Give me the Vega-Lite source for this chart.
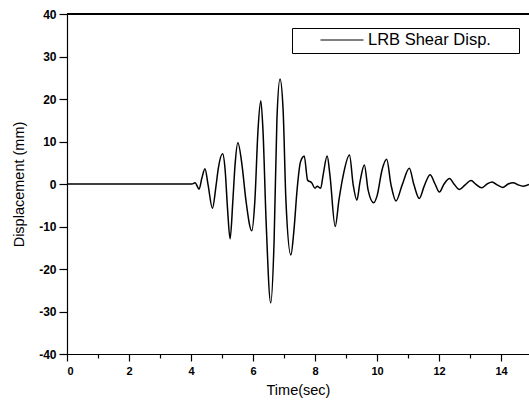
{
  "$schema": "https://vega.github.io/schema/vega-lite/v6.json",
  "autosize": "none",
  "width": 462,
  "height": 340,
  "padding": {"left": 67, "top": 14, "right": 0, "bottom": 57},
  "background": "white",
  "config": {
    "view": {"stroke": null},
    "font": "Liberation Sans",
    "axis": {"domainColor": "black", "tickColor": "black", "labelColor": "black", "titleColor": "black", "grid": false, "labelFont": "Liberation Sans", "titleFont": "Liberation Sans", "labelFontSize": 11, "labelFontWeight": "bold", "titleFontSize": 14.5, "titleFontWeight": "normal", "domainWidth": 1.2, "tickWidth": 1.2},
    "legend": {"strokeColor": "black", "padding": 4, "labelFont": "Liberation Sans", "labelFontSize": 16.5, "labelColor": "black"}
  },
  "data": {"values": [
    {"t": 0, "v": 0, "s": "LRB Shear Disp."},
    {"t": 3.65, "v": 0, "s": "LRB Shear Disp."},
    {"t": 4.03, "v": 0, "s": "LRB Shear Disp."},
    {"t": 4.13, "v": 0.3, "s": "LRB Shear Disp."},
    {"t": 4.26, "v": -1.2, "s": "LRB Shear Disp."},
    {"t": 4.35, "v": 1.4, "s": "LRB Shear Disp."},
    {"t": 4.45, "v": 3.6, "s": "LRB Shear Disp."},
    {"t": 4.55, "v": -0.2, "s": "LRB Shear Disp."},
    {"t": 4.69, "v": -5.7, "s": "LRB Shear Disp."},
    {"t": 4.81, "v": -0.2, "s": "LRB Shear Disp."},
    {"t": 4.88, "v": 3.7, "s": "LRB Shear Disp."},
    {"t": 5.02, "v": 7.1, "s": "LRB Shear Disp."},
    {"t": 5.10, "v": 3.3, "s": "LRB Shear Disp."},
    {"t": 5.18, "v": -6.1, "s": "LRB Shear Disp."},
    {"t": 5.26, "v": -12.9, "s": "LRB Shear Disp."},
    {"t": 5.35, "v": -3.8, "s": "LRB Shear Disp."},
    {"t": 5.42, "v": 4.5, "s": "LRB Shear Disp."},
    {"t": 5.51, "v": 9.7, "s": "LRB Shear Disp."},
    {"t": 5.65, "v": 4.1, "s": "LRB Shear Disp."},
    {"t": 5.77, "v": -3.8, "s": "LRB Shear Disp."},
    {"t": 5.96, "v": -11.0, "s": "LRB Shear Disp."},
    {"t": 6.06, "v": -3.8, "s": "LRB Shear Disp."},
    {"t": 6.16, "v": 12.7, "s": "LRB Shear Disp."},
    {"t": 6.25, "v": 19.6, "s": "LRB Shear Disp."},
    {"t": 6.32, "v": 12.7, "s": "LRB Shear Disp."},
    {"t": 6.42, "v": -8.5, "s": "LRB Shear Disp."},
    {"t": 6.57, "v": -28.0, "s": "LRB Shear Disp."},
    {"t": 6.68, "v": -13.2, "s": "LRB Shear Disp."},
    {"t": 6.77, "v": 15.1, "s": "LRB Shear Disp."},
    {"t": 6.87, "v": 24.7, "s": "LRB Shear Disp."},
    {"t": 6.97, "v": 17.4, "s": "LRB Shear Disp."},
    {"t": 7.06, "v": -3.8, "s": "LRB Shear Disp."},
    {"t": 7.22, "v": -16.7, "s": "LRB Shear Disp."},
    {"t": 7.32, "v": -10.8, "s": "LRB Shear Disp."},
    {"t": 7.42, "v": -1.4, "s": "LRB Shear Disp."},
    {"t": 7.52, "v": 4.9, "s": "LRB Shear Disp."},
    {"t": 7.58, "v": 6.1, "s": "LRB Shear Disp."},
    {"t": 7.65, "v": 6.6, "s": "LRB Shear Disp."},
    {"t": 7.76, "v": 0.9, "s": "LRB Shear Disp."},
    {"t": 7.89, "v": 0.3, "s": "LRB Shear Disp."},
    {"t": 8.0, "v": -1.0, "s": "LRB Shear Disp."},
    {"t": 8.07, "v": -0.5, "s": "LRB Shear Disp."},
    {"t": 8.18, "v": -1.0, "s": "LRB Shear Disp."},
    {"t": 8.26, "v": 2.1, "s": "LRB Shear Disp."},
    {"t": 8.39, "v": 6.6, "s": "LRB Shear Disp."},
    {"t": 8.48, "v": 2.1, "s": "LRB Shear Disp."},
    {"t": 8.65, "v": -10.0, "s": "LRB Shear Disp."},
    {"t": 8.77, "v": -3.8, "s": "LRB Shear Disp."},
    {"t": 8.91, "v": 2.1, "s": "LRB Shear Disp."},
    {"t": 9.11, "v": 6.8, "s": "LRB Shear Disp."},
    {"t": 9.23, "v": -0.2, "s": "LRB Shear Disp."},
    {"t": 9.35, "v": -3.8, "s": "LRB Shear Disp."},
    {"t": 9.45, "v": 0.5, "s": "LRB Shear Disp."},
    {"t": 9.59, "v": 4.5, "s": "LRB Shear Disp."},
    {"t": 9.71, "v": -1.4, "s": "LRB Shear Disp."},
    {"t": 9.89, "v": -4.4, "s": "LRB Shear Disp."},
    {"t": 10.0, "v": -2.8, "s": "LRB Shear Disp."},
    {"t": 10.16, "v": 3.3, "s": "LRB Shear Disp."},
    {"t": 10.31, "v": 5.8, "s": "LRB Shear Disp."},
    {"t": 10.45, "v": -0.2, "s": "LRB Shear Disp."},
    {"t": 10.61, "v": -4.0, "s": "LRB Shear Disp."},
    {"t": 10.81, "v": -0.2, "s": "LRB Shear Disp."},
    {"t": 11.04, "v": 3.7, "s": "LRB Shear Disp."},
    {"t": 11.19, "v": -0.2, "s": "LRB Shear Disp."},
    {"t": 11.36, "v": -3.4, "s": "LRB Shear Disp."},
    {"t": 11.52, "v": -0.5, "s": "LRB Shear Disp."},
    {"t": 11.71, "v": 2.2, "s": "LRB Shear Disp."},
    {"t": 11.87, "v": 0, "s": "LRB Shear Disp."},
    {"t": 12.01, "v": -1.9, "s": "LRB Shear Disp."},
    {"t": 12.16, "v": 0, "s": "LRB Shear Disp."},
    {"t": 12.34, "v": 1.3, "s": "LRB Shear Disp."},
    {"t": 12.48, "v": 0, "s": "LRB Shear Disp."},
    {"t": 12.66, "v": -1.3, "s": "LRB Shear Disp."},
    {"t": 12.84, "v": -0.2, "s": "LRB Shear Disp."},
    {"t": 13.03, "v": 0.8, "s": "LRB Shear Disp."},
    {"t": 13.19, "v": -0.1, "s": "LRB Shear Disp."},
    {"t": 13.37, "v": -0.9, "s": "LRB Shear Disp."},
    {"t": 13.55, "v": 0, "s": "LRB Shear Disp."},
    {"t": 13.71, "v": 0.5, "s": "LRB Shear Disp."},
    {"t": 13.87, "v": -0.2, "s": "LRB Shear Disp."},
    {"t": 14.05, "v": -0.8, "s": "LRB Shear Disp."},
    {"t": 14.23, "v": 0, "s": "LRB Shear Disp."},
    {"t": 14.39, "v": 0.3, "s": "LRB Shear Disp."},
    {"t": 14.55, "v": -0.2, "s": "LRB Shear Disp."},
    {"t": 14.71, "v": -0.5, "s": "LRB Shear Disp."},
    {"t": 14.9, "v": -0.1, "s": "LRB Shear Disp."}
  ]},
  "layer": [
    {
      "mark": {"type": "rule", "color": "black", "strokeWidth": 1},
      "encoding": {"y": {"datum": 40, "type": "quantitative"}}
    },
    {
      "mark": {"type": "line", "interpolate": "monotone", "strokeWidth": 1.5, "clip": true},
      "encoding": {
        "x": {"field": "t", "type": "quantitative", "scale": {"domain": [0, 14.9], "nice": false},
          "axis": {"title": "Time(sec)", "values": [0,1,2,3,4,5,6,7,8,9,10,11,12,13,14],
            "labelExpr": "datum.value % 2 === 0 ? '' + datum.value : ''",
            "tickSize": {"condition": {"test": "datum.value % 2 === 0", "value": 7}, "value": 4},
            "labelPadding": 4, "titlePadding": 7}},
        "y": {"field": "v", "type": "quantitative", "scale": {"domain": [-40, 40], "nice": false},
          "axis": {"title": "Displacement (mm)", "values": [-40,-35,-30,-25,-20,-15,-10,-5,0,5,10,15,20,25,30,35,40],
            "labelExpr": "datum.value % 10 === 0 ? '' + datum.value : ''",
            "labelFontSize": 12,
            "tickSize": {"condition": {"test": "datum.value % 10 === 0", "value": 8}, "value": 4},
            "labelPadding": 3, "titlePadding": 12}},
        "color": {"field": "s", "type": "nominal", "scale": {"range": ["black"]},
          "legend": {"title": null, "orient": "none", "legendX": 225, "legendY": 14,
            "symbolType": "stroke", "symbolSize": 1849, "symbolStrokeWidth": 1, "symbolOffset": 24, "labelOffset": 4,
            "clipHeight": 16, "labelExpr": "datum.label + '\u2800\u2800'"}}
      }
    }
  ]
}
